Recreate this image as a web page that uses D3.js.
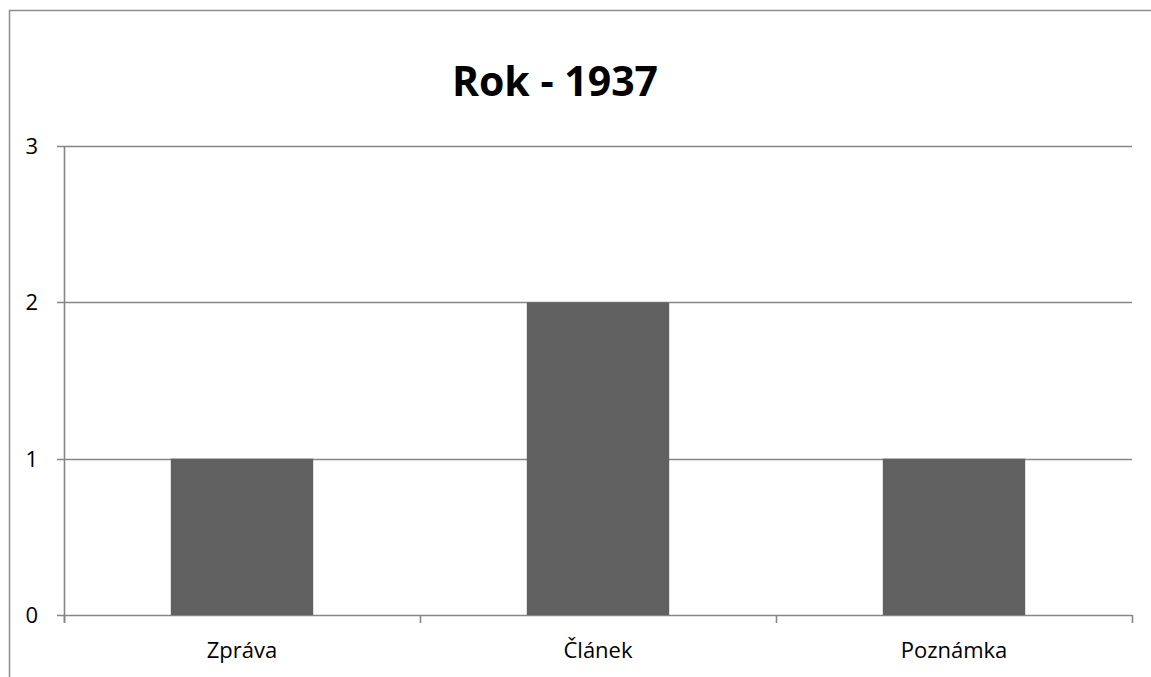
<!DOCTYPE html>
<html>
<head>
<meta charset="utf-8">
<script src="https://cdn.jsdelivr.net/npm/d3@7"></script>
<style>
  html, body { margin: 0; padding: 0; background: #fff; }
  svg { display: block; }
</style>
</head>
<body>
<svg id="chart" width="1151" height="677"></svg>
<script>
// Article types for the year 1937 and their counts
const chartTitle = "Rok - 1937";
const categories = ["Zpráva", "Článek", "Poznámka"];
const counts = [1, 2, 1];
const yTicks = [0, 1, 2, 3];

const W = 1151, H = 677;
const plot = { left: 64, right: 1132, top: 146, bottom: 615 };
const gridColor = "#868686";
const barColor = "#606060";
const font = "'Open Sans', 'Noto Sans', sans-serif";

const svg = d3.select("#chart");

// Chart frame (left and top edges visible)
svg.append("path")
  .attr("d", `M9.5,${H} V10.5 H${W}`)
  .attr("fill", "none")
  .attr("stroke", "#8c8c8c")
  .attr("stroke-width", 1.5);

const x = d3.scaleBand()
  .domain(categories)
  .range([plot.left, plot.right])
  .paddingInner(0.6)
  .paddingOuter(0.3);

const y = d3.scaleLinear()
  .domain([0, 3])
  .range([plot.bottom, plot.top]);

// Horizontal gridlines with short tick stubs on the left
svg.append("g")
  .selectAll("line")
  .data(yTicks)
  .join("line")
  .attr("x1", plot.left - 7)
  .attr("x2", plot.right)
  .attr("y1", d => Math.round(y(d)) + 0.5)
  .attr("y2", d => Math.round(y(d)) + 0.5)
  .attr("stroke", gridColor)
  .attr("stroke-width", 1.6);

// Bars
svg.append("g")
  .selectAll("rect")
  .data(categories)
  .join("rect")
  .attr("x", d => x(d))
  .attr("width", x.bandwidth())
  .attr("y", (d, i) => y(counts[i]))
  .attr("height", (d, i) => y(0) - y(counts[i]))
  .attr("fill", barColor);

// Vertical axis line
svg.append("line")
  .attr("x1", plot.left + 0.5).attr("x2", plot.left + 0.5)
  .attr("y1", plot.top).attr("y2", plot.bottom + 8)
  .attr("stroke", gridColor)
  .attr("stroke-width", 1.6);

// Category boundary ticks on the horizontal axis
const step = (plot.right - plot.left) / categories.length;
const boundaries = d3.range(categories.length + 1).map(i => plot.left + i * step);
svg.append("g")
  .selectAll("line")
  .data(boundaries)
  .join("line")
  .attr("x1", d => Math.round(d) + 0.5)
  .attr("x2", d => Math.round(d) + 0.5)
  .attr("y1", plot.bottom)
  .attr("y2", plot.bottom + 8)
  .attr("stroke", gridColor)
  .attr("stroke-width", 1.6);

// Y tick labels
svg.append("g")
  .selectAll("text")
  .data(yTicks)
  .join("text")
  .attr("x", 38)
  .attr("y", d => y(d) + 8)
  .attr("text-anchor", "end")
  .attr("font-family", font)
  .attr("font-size", 22)
  .attr("fill", "#000")
  .text(d => d);

// Category labels
svg.append("g")
  .selectAll("text")
  .data(categories)
  .join("text")
  .attr("x", d => x(d) + x.bandwidth() / 2)
  .attr("y", 658)
  .attr("text-anchor", "middle")
  .attr("font-family", font)
  .attr("font-size", 22)
  .attr("fill", "#000")
  .text(d => d);

// Title
svg.append("text")
  .attr("x", 555)
  .attr("y", 96)
  .attr("text-anchor", "middle")
  .attr("font-family", font)
  .attr("font-weight", "bold")
  .attr("font-size", 41)
  .attr("fill", "#000")
  .text(chartTitle);
</script>
</body>
</html>
